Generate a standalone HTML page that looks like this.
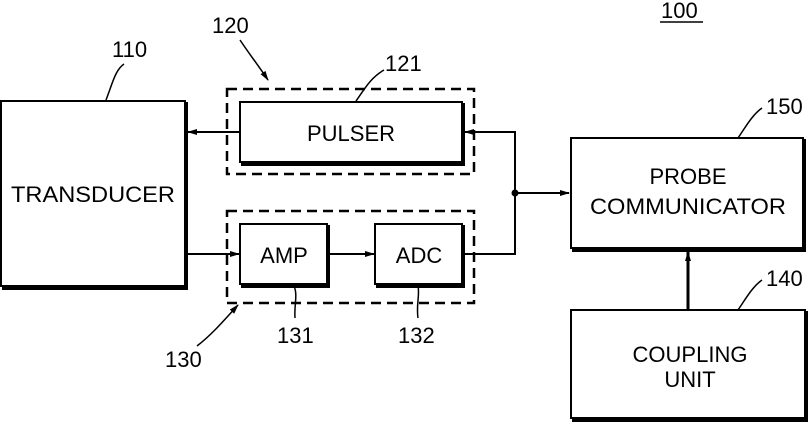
<!DOCTYPE html>
<html><head><meta charset="utf-8"><style>html,body{margin:0;padding:0;background:#fff}svg{display:block}</style></head><body>
<svg width="809" height="424" viewBox="0 0 809 424" xmlns="http://www.w3.org/2000/svg" font-family="Liberation Sans, sans-serif" fill="none" stroke="#000">
<defs><marker id="a" markerWidth="10" markerHeight="8" refX="9" refY="4" orient="auto" markerUnits="userSpaceOnUse"><path d="M0,1 L10,4 L0,7 Z" fill="#000" stroke="none"/></marker></defs>
<!-- boxes with shadow edges -->
<g stroke-width="2">
<rect x="1" y="101" width="184" height="185"/>
<rect x="240" y="102" width="222" height="60"/>
<rect x="240" y="224" width="87" height="60"/>
<rect x="375" y="224" width="87" height="60"/>
<rect x="571" y="138" width="232" height="110"/>
<rect x="571" y="310" width="234" height="108"/>
</g>
<g stroke-width="4">
<path d="M186,102 V288 H2"/>
<path d="M463,103 V164 H241"/>
<path d="M328,225 V286 H241"/>
<path d="M463,225 V286 H376"/>
<path d="M804,139 V250 H572"/>
<path d="M806,311 V420 H572"/>
</g>
<g stroke-width="2.5" stroke-dasharray="10,6">
<rect x="227" y="89" width="247" height="85"/>
<rect x="227" y="211" width="247" height="92"/>
</g>
<g stroke-width="2">
<path d="M240,132 H188" marker-end="url(#a)"/>
<path d="M515,193 V132 H465" marker-end="url(#a)"/>
<path d="M464,254 H515 V193 H569" marker-end="url(#a)"/>
<path d="M188,254 H239" marker-end="url(#a)"/>
<path d="M330,254 H374" marker-end="url(#a)"/>
<path d="M688,310 V252" stroke-width="3" marker-end="url(#a)"/>
</g>
<circle cx="515" cy="193" r="3.5" fill="#000" stroke="none"/>
<!-- leader lines -->
<g stroke-width="1.5">
<path d="M106,100 C112,85 115,70 124,64"/>
<path d="M356,101 C364,90 370,78 384,70"/>
<path d="M240,40 C250,55 258,65 268,80" marker-end="url(#a)"/>
<path d="M197,346 C210,336 220,325 238,305" marker-end="url(#a)"/>
<path d="M294,286 C298,295 294,305 295,318"/>
<path d="M418,286 C420,295 416,305 418,318"/>
<path d="M738,138 C745,128 752,115 762,108"/>
<path d="M738,310 C745,300 752,287 762,280"/>
</g>
<path d="M660,22 H703" stroke-width="1.5"/>
<g fill="#000" stroke="none" font-size="22">
<text x="112" y="57">110</text>
<text x="212" y="33">120</text>
<text x="385" y="71">121</text>
<text x="165" y="367">130</text>
<text x="277" y="343">131</text>
<text x="398" y="343">132</text>
<text x="661" y="18">100</text>
<text x="766" y="114">150</text>
<text x="766" y="286">140</text>
<text x="93" y="202" text-anchor="middle" textLength="164" lengthAdjust="spacingAndGlyphs">TRANSDUCER</text>
<text x="351" y="141" text-anchor="middle">PULSER</text>
<text x="284" y="263" text-anchor="middle">AMP</text>
<text x="419" y="263" text-anchor="middle">ADC</text>
<text x="688" y="184" text-anchor="middle">PROBE</text>
<text x="688" y="214" text-anchor="middle" textLength="196" lengthAdjust="spacingAndGlyphs">COMMUNICATOR</text>
<text x="690" y="362" text-anchor="middle">COUPLING</text>
<text x="690" y="387" text-anchor="middle">UNIT</text>
</g>
</svg>
</body></html>
